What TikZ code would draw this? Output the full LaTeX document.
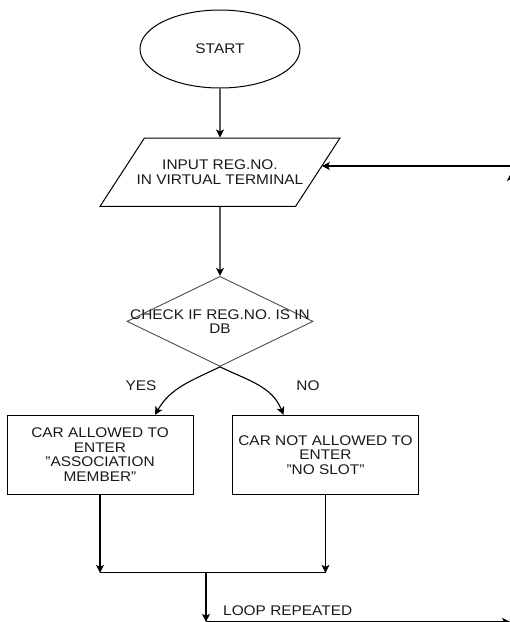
\documentclass[tikz,border=0pt]{standalone}
\usepackage{fontspec}
\setmainfont{Liberation Sans}[FakeStretch=1.1]
\usetikzlibrary{arrows.meta,positioning,shapes.geometric,calc}

\begin{document}
\begin{tikzpicture}[
  txt/.style={font=\fontsize{14}{14.5}\selectfont, text=black!90},
  startstop/.style={ellipse, draw, line width=1pt, minimum width=160pt,
    minimum height=78pt, inner sep=0pt, txt},
  io/.style={trapezium, draw, line width=1pt, trapezium left angle=57,
    trapezium right angle=123, trapezium stretches body=true,
    minimum width=240pt, inner xsep=-8pt, inner ysep=22pt, align=center, txt},
  decision/.style={diamond, draw=black!70, line width=0.9pt,
    minimum width=186pt, minimum height=90pt, inner sep=0pt},
  process/.style={rectangle, draw, line width=1pt, minimum width=186pt,
    minimum height=79pt, align=center, txt},
  lbl/.style={inner sep=0pt, txt},
  arr/.style={-{Stealth[length=8pt, width=8pt, inset=2pt]}, line width=1.1pt},
  line/.style={line width=1.1pt},
]
\useasboundingbox (0pt,0pt) rectangle (510pt,-622pt);

\node[startstop] (start) at (220pt,-49pt) {START};
\node[io, below=49pt of start] (input) {INPUT REG.NO.\\IN VIRTUAL TERMINAL};
\node[decision, below=69pt of input,
  label={[lbl, align=center]center:CHECK IF REG.NO. IS IN\\DB}] (check) {};
\node[process, below=48pt of check, xshift=-120pt] (allowed)
  {CAR ALLOWED TO\\ENTER\\"ASSOCIATION\\MEMBER"};
\node[process, below=48pt of check, xshift=105.5pt] (denied)
  {CAR NOT ALLOWED TO\\ENTER\\"NO SLOT"};

% branch labels
\node[lbl] (yes) at ($(check.south)+(-79pt,-19pt)$) {YES};
\node[lbl] (no) at ($(check.south)+(88pt,-19pt)$) {NO};

% merge and loop points
\coordinate[below=78pt of allowed.south] (joinL);
\coordinate (joinR) at (denied.south |- joinL);
\coordinate[right=106pt of joinL] (joinM);
\coordinate[below=49pt of joinM] (loopA);
\coordinate (loopin) at (510pt,-166pt);
\coordinate (loopB) at (loopin |- loopA);

\node[lbl, above right=6pt and 17pt of loopA] (looplbl) {LOOP REPEATED};

\draw[arr] (start) -- (input);
\draw[arr] (input) -- (check);
\draw[arr] (check.south) to[out=206, in=60] ($(allowed.north)+(55pt,0)$);
\draw[arr] (check.south) to[out=-26, in=112] ($(denied.north)+(-42pt,0)$);
\draw[arr] (allowed) -- (joinL);
\draw[arr] (denied) -- (joinR);
\draw[line] (joinL) -- (joinR);
\draw[arr] (joinM) -- (loopA);
\draw[arr] (loopA) -- (loopB);
\draw[arr] ([xshift=1pt]loopB) -- ([xshift=1pt, yshift=-7pt]loopin);
\draw[arr] (loopin) -- ([xshift=3.5pt]loopin -| input.east);
\end{tikzpicture}
\end{document}
